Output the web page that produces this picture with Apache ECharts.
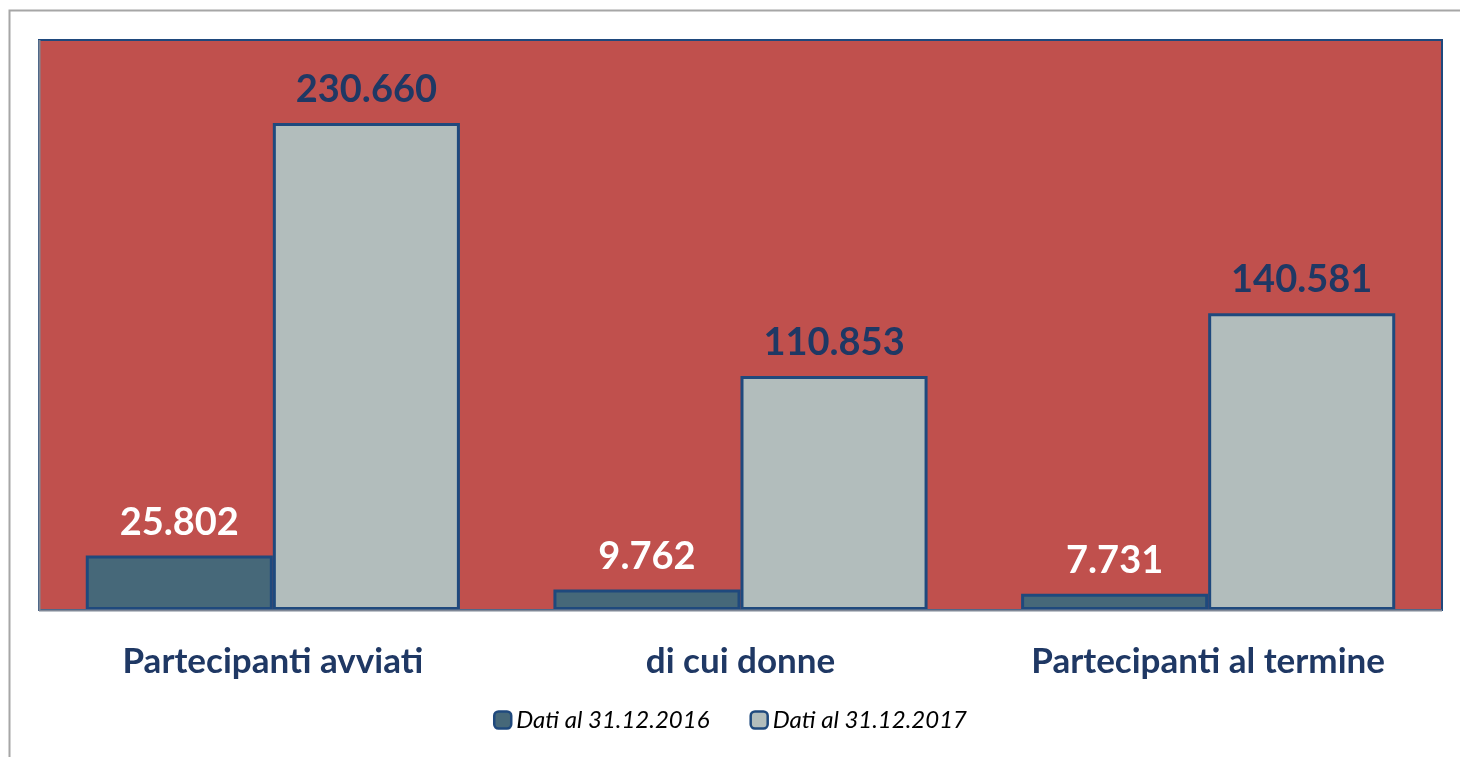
<!DOCTYPE html>
<html>
<head>
<meta charset="utf-8">
<script src="https://cdn.jsdelivr.net/npm/echarts@6/dist/echarts.min.js"></script>
<style>
html,body{margin:0;padding:0;background:#fff;}
#c{width:1460px;height:757px;}
</style>
</head>
<body>
<div id="c"></div>
<script>
const categories = ['Partecipanti avviati', 'di cui donne', 'Partecipanti al termine'];
const seriesNames = ['Dati al 31.12.2016', 'Dati al 31.12.2017'];
const values2016 = [25802, 9762, 7731];
const values2017 = [230660, 110853, 140581];

const fmt = v => v.toString().replace(/\B(?=(\d{3})+(?!\d))/g, '.');
const font = 'Lato, "Open Sans", sans-serif';

const chart = echarts.init(document.getElementById('c'), null, {renderer: 'canvas'});
chart.setOption({
  animation: false,
  backgroundColor: '#fff',
  graphic: [{
    type: 'rect', z: -10,
    shape: {x: 9.5, y: 10.5, width: 1500, height: 800},
    style: {fill: 'none', stroke: '#a6a6a6', lineWidth: 2}
  }, {
    type: 'line', z: 10,
    shape: {x1: 39, y1: 610.5, x2: 1442, y2: 610.5},
    style: {stroke: '#7f8796', lineWidth: 2}
  }, {
    type: 'line', z: 10,
    shape: {x1: 39.5, y1: 40, x2: 39.5, y2: 611},
    style: {stroke: '#7f8796', lineWidth: 2}
  }],
  grid: {
    left: 39, top: 40, right: 18, bottom: 147,
    show: true, backgroundColor: '#C0504D',
    borderColor: '#1F497D', borderWidth: 2
  },
  legend: {
    bottom: 20, left: 'center',
    itemWidth: 17, itemHeight: 17, itemGap: 40,
    textStyle: {fontFamily: font, fontStyle: 'italic', fontSize: 24, color: '#000'},
    data: seriesNames.map(n => ({name: n, icon: 'roundRect', itemStyle: {borderColor: '#1F497D', borderWidth: 2.5}}))
  },
  xAxis: {
    type: 'category', data: categories,
    axisLine: {show: false}, axisTick: {show: false},
    axisLabel: {margin: 34, fontFamily: font, fontWeight: 'bold', fontSize: 35, color: '#1F3864'}
  },
  yAxis: {
    type: 'value', min: 0, max: 270000,
    show: false, splitLine: {show: false}
  },
  series: [{
    name: seriesNames[0], type: 'bar', data: values2016,
    barGap: '0%', barCategoryGap: '20%',
    itemStyle: {color: '#466879', borderColor: '#1F497D', borderWidth: 3},
    label: {show: true, position: 'top', distance: 14, formatter: p => fmt(p.value),
      fontFamily: font, fontWeight: 'bold', fontSize: 38, color: '#fff'}
  }, {
    name: seriesNames[1], type: 'bar', data: values2017,
    itemStyle: {color: '#B2BDBC', borderColor: '#1F497D', borderWidth: 3},
    label: {show: true, position: 'top', distance: 14, formatter: p => fmt(p.value),
      fontFamily: font, fontWeight: 'bold', fontSize: 38, color: '#1F3864'}
  }]
});
</script>
</body>
</html>
